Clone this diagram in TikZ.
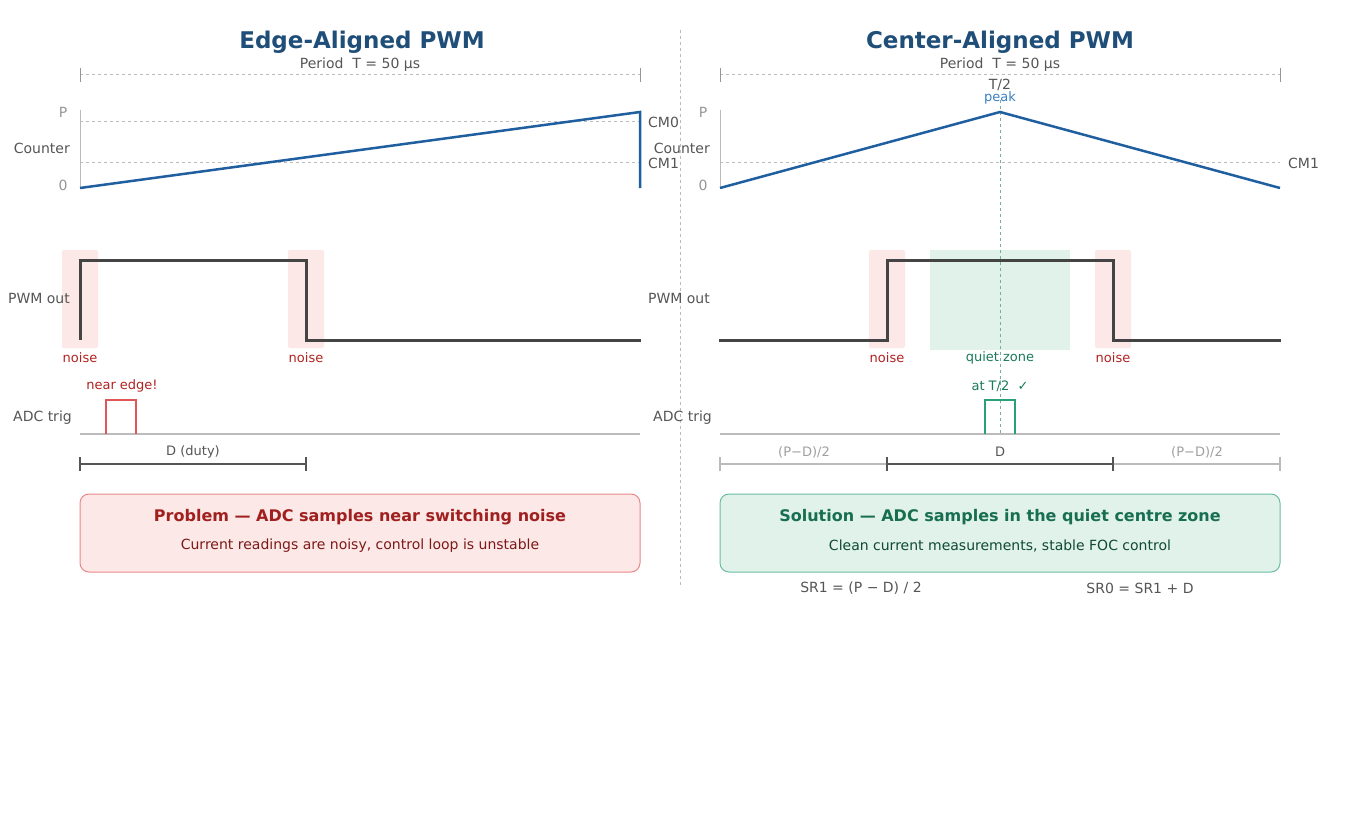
\documentclass[tikz,border=0pt]{standalone}
\usepackage{fontspec}
\setmainfont{DejaVu Sans}
\begin{document}
\begin{tikzpicture}[x=1pt,y=-1pt,
  lbl/.style={font=\fontsize{14}{16}\selectfont,text=txt,inner sep=0pt},
  sm/.style={font=\fontsize{13}{15}\selectfont,inner sep=0pt},
  ttl/.style={font=\fontsize{23}{26}\selectfont\bfseries,text=ttlc,inner sep=0pt},
  per/.style={dashed,draw=lgray,line width=1pt},
  brk/.style={line width=1.2pt},
  wave/.style={draw=wavec,line width=3pt},
  ctr/.style={draw=ctrc,line width=2.5pt},
  noisebox/.style={fill=noisef,draw=none,rounded corners=2pt},
  cmline/.style={dashed,draw=lgray,line width=1pt}]
\definecolor{txt}{HTML}{555555}
\definecolor{lgray}{HTML}{BBBBBB}
\definecolor{ttlc}{HTML}{1F4E79}
\definecolor{ctrc}{HTML}{1F5FA0}
\definecolor{wavec}{HTML}{444444}
\definecolor{noisef}{HTML}{FCE8E6}
\definecolor{noisec}{HTML}{B22222}
\definecolor{quietf}{HTML}{E0F2EA}
\definecolor{quietc}{HTML}{1A7A5A}
\definecolor{redp}{HTML}{E05555}
\definecolor{greenp}{HTML}{2AA07A}
\definecolor{peakc}{HTML}{3A7FC0}
\useasboundingbox (0,0) rectangle (1360,840);
\fill[white] (0,0) rectangle (1360,840);
% divider
\draw[dashed,draw=lgray,line width=1pt] (680,30) -- (680,585);
% titles
\node[ttl] (t1) at (362,42) {Edge-Aligned PWM};
\node[ttl] (t2) at (1000,42) {Center-Aligned PWM};
% period
\foreach \a/\b/\n in {80/640/l,720/1280/r}{
  \draw[per] (\a,75) -- (\b,75);
  \draw[lgray!80!black,line width=1pt] (\a,68) -- (\a,82) (\b,68) -- (\b,82);
}
\node[lbl] (p1) at (360,65) {Period\ \ T = 50 µs};
\node[lbl] (p2) at (1000,65) {Period\ \ T = 50 µs};
% left counter
\draw[lgray,line width=1pt] (80,110) -- (80,188);
\draw[cmline] (80,122) -- (640,122);
\draw[cmline] (80,163) -- (640,163);
\node[lbl,text=lgray!80!black] (lP) at (63,112) {P};
\node[lbl,text=lgray!80!black] (l0) at (63,185) {0};
\node[lbl,anchor=east] (lc) at (70,148) {Counter};
\draw[ctr] (80,188) -- (640,112) -- (640,188);
\node[lbl,anchor=west] (lcm0) at (648,122) {CM0};
\node[lbl,anchor=west] (lcm1) at (648,163) {CM1};
% left pwm
\fill[noisebox] (62,250) rectangle (98,348);
\fill[noisebox] (288,250) rectangle (324,348);
\draw[wave] (80,340) -- (80,260) -- (306,260) -- (306,340) -- (641,340);
\node[lbl,anchor=east] (lpw) at (70,298) {PWM out};
\node[sm,text=noisec] (ln1) at (80,358) {noise};
\node[sm,text=noisec] (ln2) at (306,358) {noise};
\node[sm,text=noisec] (lne) at (122,386) {near edge!};
% left adc
\draw[lgray,line width=1.2pt] (80,434) -- (640,434);
\draw[redp,line width=2.5pt] (106,434) -- (106,400) -- (136,400) -- (136,434);
\node[lbl,anchor=east] (ladc) at (72,418) {ADC trig};
\draw[brk,draw=txt] (80,464) -- (306,464) (80,457) -- (80,471) (306,457) -- (306,471);
\node[sm,text=txt] (ld) at (193,452) {D (duty)};
% problem box
\draw[fill=noisef,draw=redp!70,rounded corners=9pt,line width=1pt] (80,494) rectangle (640,572);
\node[font=\fontsize{16}{18}\selectfont\bfseries,text=noisec!90!black,inner sep=0pt] (pb1) at (360,517) {Problem — ADC samples near switching noise};
\node[lbl,text=noisec!70!black] (pb2) at (360,546) {Current readings are noisy, control loop is unstable};
% right counter
\draw[lgray,line width=1pt] (720,110) -- (720,188);
\draw[cmline] (720,163) -- (1280,163);
\node[lbl,text=lgray!80!black] (rP) at (703,112) {P};
\node[lbl,text=lgray!80!black] (r0) at (703,185) {0};
\node[lbl,anchor=east] (rc) at (710,148) {Counter};
\node[lbl,anchor=west] (rcm1) at (1288,163) {CM1};
\fill[quietf] (930,250) rectangle (1070,350);
\fill[noisebox] (869,250) rectangle (905,348);
\fill[noisebox] (1095,250) rectangle (1131,348);
\draw[dashed,draw=quietc!60,line width=1pt] (1000,100) -- (1000,435);
\draw[ctr] (720,188) -- (1000,112) -- (1280,188);
\node[lbl] (rt2) at (1000,85) {T/2};
\node[sm,text=peakc] (rpk) at (1000,98) {peak};
% right pwm
\draw[wave] (719,340) -- (887,340) -- (887,260) -- (1113,260) -- (1113,340) -- (1281,340);
\node[lbl,anchor=east] (rpw) at (710,298) {PWM out};
\node[sm,text=noisec] (rn1) at (887,358) {noise};
\node[sm,text=noisec] (rn2) at (1113,358) {noise};
\node[sm,text=quietc] (rq) at (1000,358) {quiet zone};
\node[sm,text=quietc] (rq2) at (1000,386) {at T/2\ \ ✓};
% right adc
\draw[lgray,line width=1.2pt] (720,434) -- (1280,434);
\draw[greenp,line width=2.5pt] (985,434) -- (985,400) -- (1015,400) -- (1015,434);
\node[lbl,anchor=east] (radc) at (712,418) {ADC trig};
\draw[brk,draw=lgray] (720,464) -- (887,464) (720,457) -- (720,471);
\draw[brk,draw=lgray] (1113,464) -- (1280,464) (1280,457) -- (1280,471);
\draw[brk,draw=txt] (887,464) -- (1113,464) (887,457) -- (887,471) (1113,457) -- (1113,471);
\node[sm,text=lgray!85!black] (rb1) at (804,452) {(P−D)/2};
\node[sm,text=txt] (rb2) at (1000,452) {D};
\node[sm,text=lgray!85!black] (rb3) at (1197,452) {(P−D)/2};
% solution box
\draw[fill=quietf,draw=greenp!70,rounded corners=9pt,line width=1pt] (720,494) rectangle (1280,572);
\node[font=\fontsize{16}{18}\selectfont\bfseries,text=quietc!90!black,inner sep=0pt] (sb1) at (1000,517) {Solution — ADC samples in the quiet centre zone};
\node[lbl,text=quietc!60!black] (sb2) at (1000,546) {Clean current measurements, stable FOC control};
\node[lbl] (sr1) at (861,588) {SR1 = (P − D) / 2};
\node[lbl] (sr0) at (1140,588) {SR0 = SR1 + D};
\end{tikzpicture}
\end{document}
